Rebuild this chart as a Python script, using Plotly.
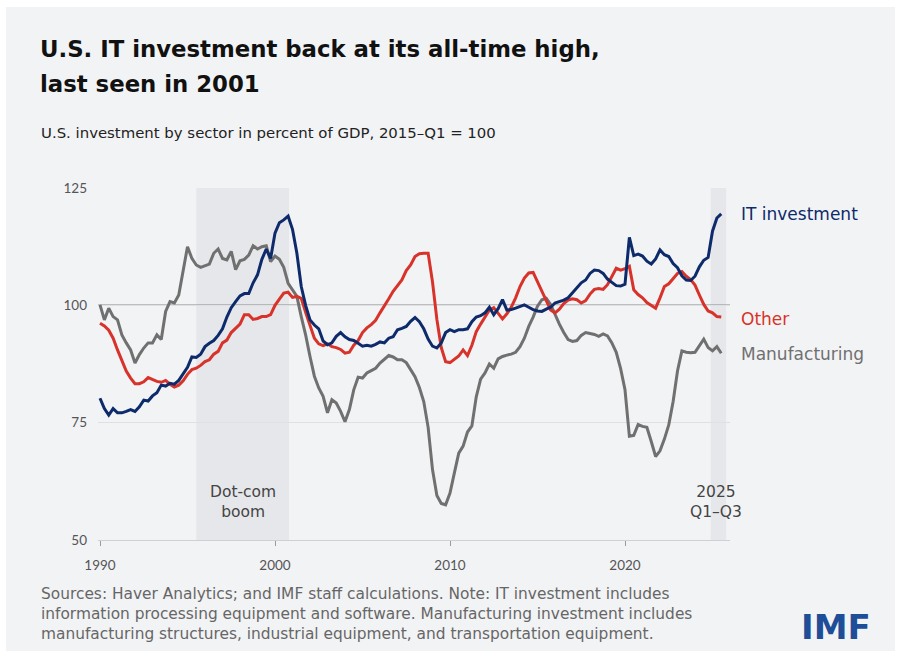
import plotly.graph_objects as go

# ---------------- data (quarterly, 1990Q1 .. 2025Q3) ----------------
START_YEAR = 1990
IT_INVESTMENT = [
    80.2, 78.0, 76.6, 78.0, 77.1, 77.1, 77.4, 77.8, 77.4, 78.4, 79.8, 79.6,
    80.7, 81.4, 83.0, 82.8, 83.4, 83.2, 84.0, 85.5, 86.8, 89.0, 88.9, 89.6,
    91.2, 91.9, 92.5, 93.6, 95.0, 97.5, 99.5, 100.8, 102.0, 102.5, 102.5, 104.8,
    106.5, 109.8, 112.0, 110.0, 115.4, 117.6, 118.2, 119.0, 116.2, 111.1, 104.0, 100.0,
    96.9, 95.8, 95.0, 92.4, 91.6, 92.0, 93.4, 94.2, 93.3, 92.7, 92.5, 91.9,
    91.3, 91.5, 91.3, 91.7, 92.2, 92.0, 93.0, 93.3, 94.8, 95.1, 95.5, 96.6,
    97.4, 96.5, 95.0, 92.8,
    91.3, 90.9, 92.0, 94.2, 94.8, 94.4, 94.8, 94.8, 95.0, 96.5, 97.5, 97.8,
    98.4, 99.6, 98.0, 99.3, 101.2, 99.0, 99.1, 99.4, 99.8, 100.1, 99.6, 99.1,
    98.8, 98.7, 99.2, 99.6, 100.5, 100.8, 101.1, 101.6, 102.6, 103.8, 104.8, 105.4,
    106.8, 107.5, 107.4, 106.8, 105.6, 104.9, 104.2, 104.1, 104.5, 114.5, 110.6, 110.9,
    110.5, 109.4, 108.8, 109.9, 111.8, 110.8, 110.4, 108.9, 108.0, 106.3, 105.4, 105.3,
    106.2, 108.2, 109.6, 110.2, 115.8, 118.6, 119.5,
]
OTHER = [
    96.2, 95.6, 94.7, 93.0, 90.5, 88.3, 86.0, 84.5, 83.3, 83.3, 83.7, 84.6,
    84.2, 83.8, 83.6, 84.0, 83.2, 82.6, 83.0, 83.9, 85.3, 86.3, 86.6, 87.2,
    88.0, 88.4, 89.6, 90.2, 92.0, 92.6, 94.2, 95.0, 96.0, 98.0, 98.0, 97.0,
    97.2, 97.6, 97.6, 98.0, 100.0, 101.3, 102.6, 102.8, 101.7, 101.9, 101.5, 98.5,
    95.5, 93.0, 91.8, 91.4, 91.8, 91.2, 91.0, 90.6, 89.8, 90.0, 91.5, 92.5,
    94.2, 95.2, 95.9, 96.8, 98.4, 99.8, 101.4, 103.0, 104.3, 105.4, 107.4, 108.6,
    110.4, 111.0, 111.1, 111.1,
    105.0, 97.0, 91.0, 88.0, 87.8, 88.5, 89.2, 90.5, 89.3, 91.5, 94.4, 96.0,
    97.6, 99.0, 99.5, 98.2, 97.1, 98.2, 99.6, 101.6, 104.0, 105.8, 106.9, 107.0,
    105.0, 102.7, 100.8, 99.0, 98.4, 99.2, 100.4, 101.1, 101.4, 101.2, 100.5, 101.0,
    102.4, 103.4, 103.6, 103.4, 104.4, 106.3, 107.9, 107.5, 107.8, 108.3, 103.3, 102.3,
    101.6, 100.6, 99.9, 99.4, 101.6, 104.0, 104.6, 105.6, 106.8, 107.2, 106.2, 105.5,
    104.3, 102.2, 100.2, 98.8, 98.4, 97.6, 97.5,
]
MANUFACTURING = [
    100.1, 96.9, 99.4, 97.6, 96.9, 93.7, 92.0, 90.5, 87.7, 89.5, 90.9, 92.0,
    92.0, 93.7, 92.7, 98.7, 100.8, 100.5, 102.2, 107.2, 112.5, 110.0, 108.6, 108.1,
    108.4, 108.8, 111.1, 112.0, 110.0, 109.7, 111.5, 107.6, 109.5, 109.8, 110.7, 112.7,
    112.0, 112.5, 112.7, 109.3, 110.5, 109.8, 108.1, 104.7, 103.3, 101.9, 97.6, 93.7,
    89.1, 84.9, 82.4, 80.6, 77.1, 79.9, 79.2, 77.4, 75.2, 77.8, 82.0, 84.7,
    84.5, 85.6, 86.1, 86.6, 87.7, 88.5, 89.3, 89.0, 88.4, 88.4, 87.8, 86.3,
    84.8, 82.5, 79.5, 74.0,
    65.0, 59.5, 57.8, 57.5, 60.0, 64.3, 68.5, 70.0, 73.0, 74.3, 80.5, 84.3,
    85.6, 87.5, 86.6, 88.6, 89.1, 89.4, 89.6, 90.0, 91.2, 93.0, 95.5, 97.5,
    99.8, 101.2, 101.5, 100.2, 98.0, 96.0, 94.2, 92.7, 92.3, 92.5, 93.6, 94.2,
    94.0, 93.8, 93.4, 93.9, 93.5, 92.0, 90.0, 86.5, 82.0, 72.1, 72.3, 74.6,
    74.2, 74.0, 71.0, 67.8, 69.0, 71.5, 74.5, 79.5, 86.0, 90.3, 90.0, 89.9,
    90.0, 91.5, 92.8, 91.0, 90.3, 91.2, 89.8,
]
SERIES_NAMES = ["IT investment", "Other", "Manufacturing"]
X_TICKS = [1990, 2000, 2010, 2020]
X_TICK_LABELS = ["1990", "2000", "2010", "2020"]
Y_TICKS = [50, 75, 100, 125]
Y_TICK_LABELS = ["50", "75", "100", "125"]
REF_LEVEL = 100
DOTCOM_BAND = (1995.5, 2000.8)
RECENT_BAND = (2024.9, 2025.78)

assert len(IT_INVESTMENT) == len(OTHER) == len(MANUFACTURING) == 143
quarters = [START_YEAR + i / 4 for i in range(len(IT_INVESTMENT))]

# ---------------- styling ----------------
W, H = 900, 656
ML, MR, MT, MB = 98, 170, 188, 116
PW, PH = W - ML - MR, H - MT - MB
FONT = "'DejaVu Sans', 'Open Sans', sans-serif"
TICKFONT = "Lato, 'Noto Sans', sans-serif"
BLUE, RED, GRAY = "#0d2a6b", "#d7332a", "#707070"
PANEL = "#f2f3f5"
BAND = "#e6e7ea"


def px(x):
    return (x - ML) / PW


def py(y):
    return (H - MB - y) / PH


fig = go.Figure()
for name, vals, col in [
    (SERIES_NAMES[2], MANUFACTURING, GRAY),
    (SERIES_NAMES[1], OTHER, RED),
    (SERIES_NAMES[0], IT_INVESTMENT, BLUE),
]:
    fig.add_trace(go.Scatter(x=quarters, y=vals, mode="lines", name=name,
                             line=dict(color=col, width=3), showlegend=False,
                             hoverinfo="skip"))

shapes = [
    dict(type="rect", xref="paper", yref="paper", x0=px(6), x1=px(895),
         y0=py(651), y1=py(7), fillcolor=PANEL, line=dict(width=0), layer="below"),
    dict(type="rect", xref="x", yref="paper", x0=DOTCOM_BAND[0], x1=DOTCOM_BAND[1],
         y0=0, y1=1, fillcolor=BAND, line=dict(width=0), layer="below"),
    dict(type="rect", xref="x", yref="paper", x0=RECENT_BAND[0], x1=RECENT_BAND[1],
         y0=0, y1=1, fillcolor=BAND, line=dict(width=0), layer="below"),
    dict(type="line", xref="paper", yref="y", x0=0, x1=1, y0=REF_LEVEL, y1=REF_LEVEL,
         line=dict(color="#8a8a8a", width=1.5), layer="between"),
]

ann = []


def text(t, x, y, size, color, xanchor="left", bold=False, align="left", family=FONT):
    if bold:
        t = "<b>" + t + "</b>"
    ann.append(dict(text=t, x=px(x), y=py(y), xref="paper", yref="paper",
                    xanchor=xanchor, yanchor="middle", showarrow=False, align=align,
                    font=dict(family=family, size=size, color=color)))


text("U.S. IT investment back at its all-time high,", 38, 49, 22.8, "#111", bold=True)
text("last seen in 2001", 38, 84, 22.8, "#111", bold=True)
text("U.S. investment by sector in percent of GDP, 2015\u2013Q1 = 100", 39, 133, 14.9, "#222")

text(SERIES_NAMES[0], 739, 214, 17, BLUE)
text(SERIES_NAMES[1], 739, 319, 17, RED)
text(SERIES_NAMES[2], 739, 354, 17, GRAY)

text("Dot-com<br>boom", 243, 502, 15.5, "#444", xanchor="center", align="center")
text("2025<br>Q1\u2013Q3", 716, 502, 15.5, "#444", xanchor="center", align="center")

footer = [
    "Sources: Haver Analytics; and IMF staff calculations. Note: IT investment includes",
    "information processing equipment and software. Manufacturing investment includes",
    "manufacturing structures, industrial equipment, and transportation equipment.",
]
text("<br>".join(footer), 39, 614, 15.4, "#666")

text("IMF", 799, 627, 34, "#1f4e99", bold=True)

fig.update_layout(
    width=W, height=H,
    margin=dict(l=ML, r=MR, t=MT, b=MB, pad=0),
    paper_bgcolor="white", plot_bgcolor="rgba(0,0,0,0)",
    shapes=shapes, annotations=ann,
    font=dict(family=TICKFONT, color="#555"),
    xaxis=dict(range=[START_YEAR - 2 / 17.5, 2026.0], tickvals=X_TICKS, ticktext=X_TICK_LABELS,
               showgrid=False, zeroline=False, showline=True, linecolor="#cfd0d3",
               linewidth=1, ticks="outside", ticklen=5, tickcolor="#9a9a9a",
               tickfont=dict(size=13.5, color="#555"), ticklabelstandoff=8,
               fixedrange=True),
    yaxis=dict(range=[50, 125], tickvals=Y_TICKS, ticktext=Y_TICK_LABELS,
               showgrid=True, gridcolor="#dfe0e3", gridwidth=1, zeroline=False,
               showline=False, ticks="", tickfont=dict(size=13.5, color="#555"),
               ticklabelstandoff=10, fixedrange=True),
    showlegend=False,
)

fig.write_html("out.html", config={"displayModeBar": False},
               post_script="document.body.style.margin='0px';")
